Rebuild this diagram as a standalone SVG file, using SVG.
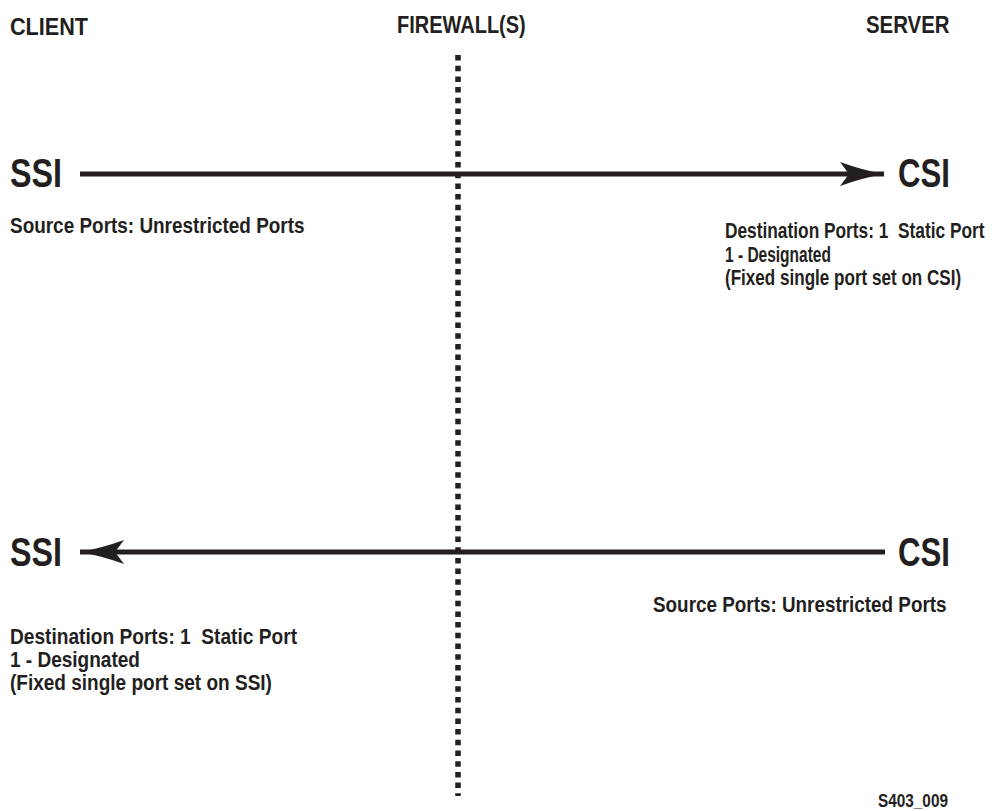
<svg xmlns="http://www.w3.org/2000/svg" width="994" height="811" viewBox="0 0 994 811">
<style>
text{font-family:"Liberation Sans",Arial,sans-serif;font-weight:bold;fill:#231f20;white-space:pre}
.h{font-size:24px}
.big{font-size:41px}
.d{font-size:22px}
.id{font-size:18px}
.conn{stroke:#231f20;stroke-width:5;fill:none}
.fw{stroke:#231f20;stroke-width:5.5;fill:none;stroke-dasharray:5.5 5.2}
</style>
<defs>
<marker id="ah" viewBox="0 0 44 24" refX="44" refY="12" markerWidth="44" markerHeight="24" markerUnits="userSpaceOnUse" orient="auto-start-reverse">
<path d="M0,0 Q22,8 44,12 Q22,16 0,24 L9,12 Z" fill="#231f20"/>
</marker>
</defs>
<rect width="994" height="811" fill="#fff"/>
<g id="headers">
<text class="h" transform="translate(10,35) scale(0.9,1)">CLIENT</text>
<text class="h" transform="translate(397,33) scale(0.833,1)">FIREWALL(S)</text>
<text class="h" transform="translate(866,33) scale(0.851,1)">SERVER</text>
</g>
<g id="firewall">
<line class="fw" x1="458" y1="55" x2="458" y2="796"/>
</g>
<g id="ssi-top">
<text class="big" transform="translate(10,187) scale(0.787,1)">SSI</text>
<text class="d" transform="translate(10,233) scale(0.861,1)">Source Ports: Unrestricted Ports</text>
</g>
<g id="csi-top">
<text class="big" transform="translate(898,187) scale(0.761,1)">CSI</text>
<text class="d" transform="translate(725,238) scale(0.787,1)">Destination Ports: 1  Static Port</text>
<text class="d" transform="translate(725,262) scale(0.705,1)">1 - Designated</text>
<text class="d" transform="translate(725,285) scale(0.776,1)">(Fixed single port set on CSI)</text>
</g>
<g id="ssi-bottom">
<text class="big" transform="translate(10,566) scale(0.787,1)">SSI</text>
<text class="d" transform="translate(10,644) scale(0.870,1)">Destination Ports: 1  Static Port</text>
<text class="d" transform="translate(10,667) scale(0.865,1)">1 - Designated</text>
<text class="d" transform="translate(10,690) scale(0.865,1)">(Fixed single port set on SSI)</text>
</g>
<g id="csi-bottom">
<text class="big" transform="translate(898,566) scale(0.761,1)">CSI</text>
<text class="d" transform="translate(653,612) scale(0.858,1)">Source Ports: Unrestricted Ports</text>
</g>
<g id="connectors">
<line class="conn" x1="80" y1="174" x2="884" y2="174" marker-end="url(#ah)"/>
<line class="conn" x1="885" y1="552" x2="80" y2="552" marker-end="url(#ah)"/>
</g>
<g id="figure-id">
<text class="id" transform="translate(878,807) scale(0.853,1)">S403_009</text>
</g>
</svg>
